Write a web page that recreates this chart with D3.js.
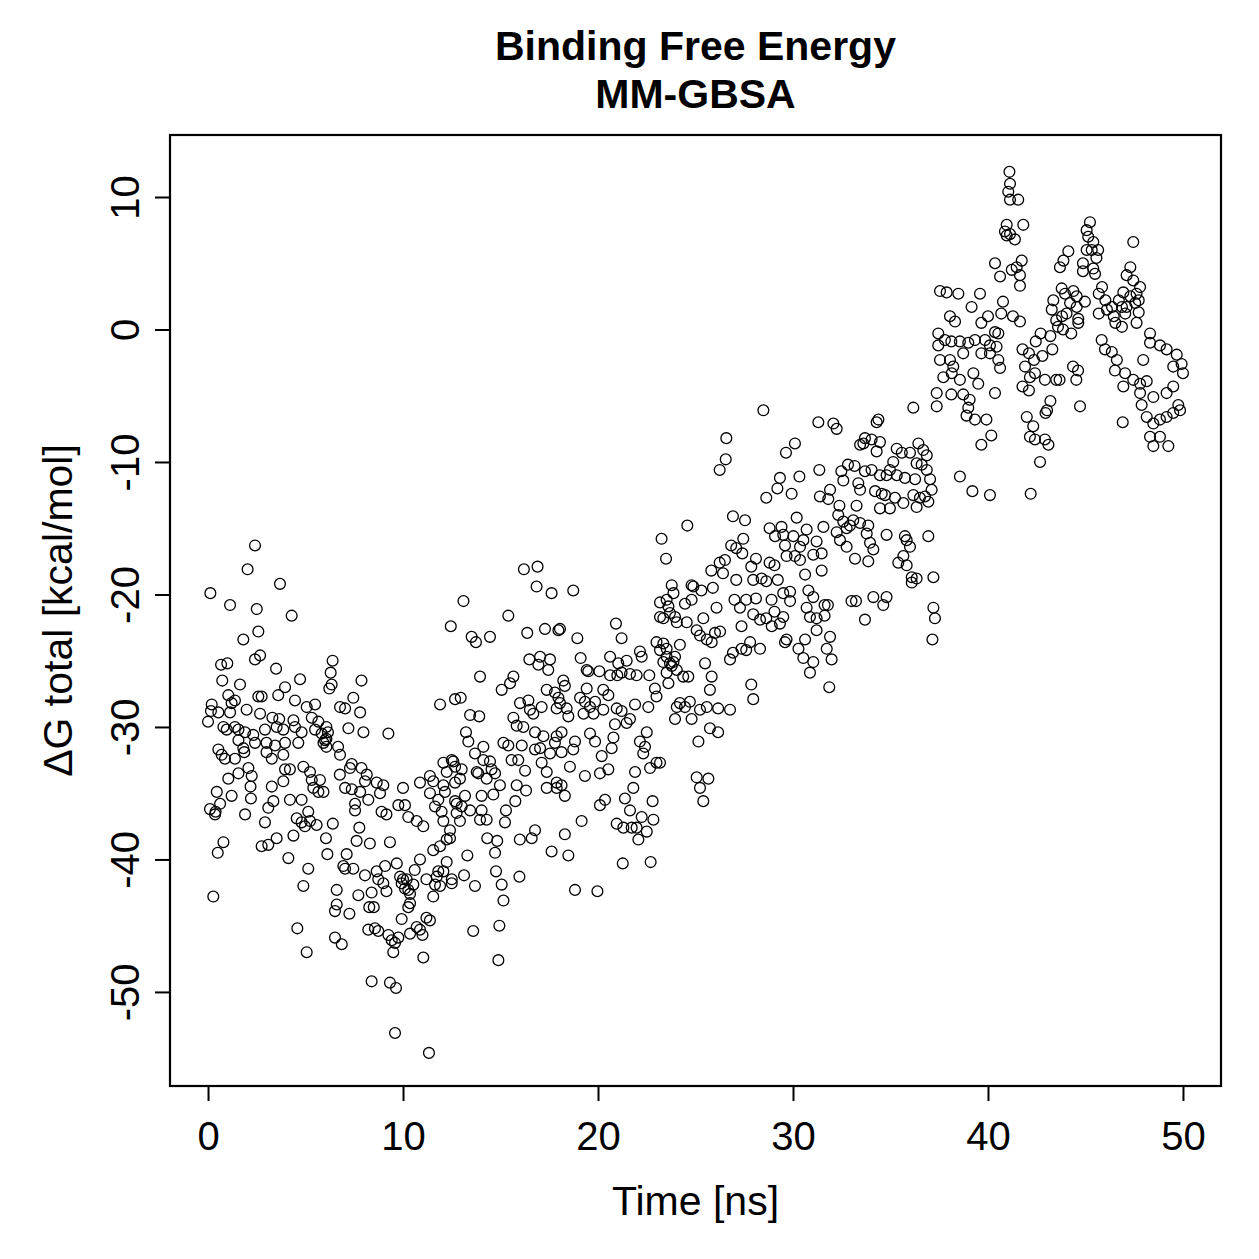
<!DOCTYPE html>
<html lang="en">
<head>
<meta charset="UTF-8">
<title>Binding Free Energy MM-GBSA</title>
<script src="https://d3js.org/d3.v7.min.js"></script>
<style>
  body { margin: 0; background: #fff; }
  text { font-family: "Liberation Sans", Arial, Helvetica, sans-serif; }
</style>
</head>
<body>
<svg id="chart"></svg>
<script>
// [time (ns), dG total (kcal/mol)], one list per decade
const seg0to10 = [
  [2.41,-16.3],[2.03,-18.1],[3.69,-19.2],[0.12,-19.9],[1.13,-20.8],[2.5,-21.1],[4.29,-21.6],[2.58,-22.8],[1.81,-23.4],[2.67,-24.6],
  [2.41,-24.9],[0.67,-25.3],[0.99,-25.2],[3.49,-25.6],[0.73,-26.5],[1.64,-26.8],[4.72,-26.4],[3.95,-27.0],[1.04,-27.6],[2.58,-27.7],
  [2.75,-27.7],[3.6,-27.6],[4.46,-28.0],[5.06,-28.5],[5.49,-28.3],[0.19,-28.3],[0.15,-28.8],[1.21,-28.2],[1.38,-28.0],[1.98,-28.7],
  [0.0,-29.6],[0.53,-28.9],[1.13,-28.9],[2.67,-29.0],[3.3,-29.3],[3.65,-29.4],[4.38,-29.5],[5.32,-29.3],[5.66,-29.6],
  [0.79,-30.0],[0.96,-30.2],[1.38,-30.0],[1.56,-30.2],[1.9,-30.4],[2.32,-30.6],[2.92,-30.2],[3.52,-30.0],[3.86,-30.2],[4.46,-30.0],
  [4.8,-30.4],[5.49,-30.2],[5.83,-30.5],[6.07,-30.9],[1.56,-31.0],[2.41,-31.2],[3.0,-31.2],[3.44,-31.4],[3.95,-31.2],[4.63,-31.2],
  [5.92,-31.2],[0.53,-31.7],[1.81,-31.6],
  [0.7,-32.1],[0.87,-32.4],[1.38,-32.4],[1.86,-31.9],[2.07,-33.1],[2.24,-33.7],[1.56,-33.5],[1.04,-33.9],[0.45,-34.9],[1.21,-35.2],
  [2.18,-34.5],[2.2,-35.4],[0.62,-35.8],[0.1,-36.2],[0.36,-36.6],[0.39,-36.4],[1.9,-36.6],[3.0,-31.9],[3.86,-32.1],[3.27,-32.4],
  [3.95,-33.2],[4.2,-33.2],[3.86,-34.1],[3.27,-34.5],[3.35,-35.6],[3.09,-36.1],[2.92,-37.2],[4.2,-35.5],[4.8,-35.5],[4.89,-33.0],
  [5.23,-33.4],[5.32,-34.0],[5.74,-34.0],[5.4,-34.6],[5.66,-34.9],[5.92,-34.9],[5.14,-36.4],[4.55,-36.9],[4.8,-37.2],[5.23,-37.1],
  [5.57,-37.4],[4.97,-37.5],[4.38,-38.2],[3.52,-38.4],[3.09,-38.9],[2.75,-39.0],[0.79,-38.7],[0.5,-39.5],[4.12,-39.9],[5.14,-40.7],
  [4.89,-42.0],[0.27,-42.8],[4.58,-45.2],[5.06,-47.0],
  [6.39,-25.0],[6.29,-25.9],[6.34,-26.8],[6.22,-27.1],[7.87,-26.5],[7.45,-27.8],[6.77,-28.5],[7.03,-28.6],[7.8,-28.9],[7.2,-30.1],
  [7.97,-30.4],[9.25,-30.5],[6.07,-30.0],[6.15,-30.4],[6.0,-31.0],[6.07,-31.5],[6.67,-31.5],[6.77,-32.1],[7.37,-32.8],[7.28,-33.1],
  [7.87,-33.1],[6.76,-33.6],[8.14,-33.6],[8.05,-34.1],[8.65,-34.2],[8.99,-34.4],[7.03,-34.6],[7.37,-34.7],[7.8,-34.9],[8.22,-35.5],
  [8.82,-35.0],[7.54,-35.8],[7.54,-36.3],[8.9,-36.4],[9.15,-36.6],[9.76,-35.9],[6.4,-37.3],[7.76,-37.6],
  [6.05,-38.4],[6.12,-39.6],[7.11,-39.6],[7.62,-38.6],[8.3,-38.8],[9.33,-38.7],[6.94,-40.5],[7.03,-40.7],[7.45,-40.7],[8.05,-41.2],
  [8.65,-40.9],[8.73,-41.5],[9.08,-40.5],[8.99,-41.8],[9.15,-42.4],[9.68,-40.3],[6.6,-42.3],[7.71,-42.7],[8.39,-42.5],[6.6,-43.4],
  [6.51,-43.9],[7.25,-44.1],[8.27,-43.6],[8.5,-43.6],[9.85,-41.3],[9.93,-41.8],[9.93,-44.5],[8.22,-45.3],[8.56,-45.2],[8.73,-45.4],
  [9.25,-45.7],[9.42,-46.1],[9.59,-46.3],[9.76,-45.9],[9.5,-47.0],[6.51,-45.9],[6.86,-46.4],[8.39,-49.2],[9.33,-49.3],[9.64,-49.7],
  [9.59,-53.1]
];

const seg10to20 = [
  [10.1,-35.9],[10.0,-34.6],[10.27,-36.8],[10.7,-37.1],[11.04,-37.5],[10.87,-34.2],[11.55,-34.1],[11.38,-35.0],[11.81,-35.5],[12.15,-34.9],
  [12.07,-32.7],[12.5,-32.5],[12.67,-33.0],[11.9,-28.3],[12.67,-27.9],[11.64,-36.0],[11.98,-36.4],[12.07,-37.1],[12.41,-37.8],[12.75,-35.8],
  [11.38,-33.7],
  [10.0,-41.5],[10.27,-42.3],[10.53,-41.9],[10.6,-40.8],[10.87,-40.0],[10.27,-43.6],[10.36,-43.3],[10.36,-45.6],[10.7,-45.1],[10.87,-45.3],
  [11.2,-44.4],[11.38,-44.6],[11.0,-45.7],[11.04,-47.4],[11.33,-54.6],[12.41,-38.4],[11.9,-39.0],[11.55,-39.3],[12.24,-40.2],[11.81,-40.9],
  [11.73,-41.3],[12.5,-41.5],[11.2,-41.5],[11.64,-41.9],[11.55,-42.8],[10.19,-41.5],[10.1,-42.2],[10.36,-42.6],
  [16.85,-19.4],[17.62,-19.9],[13.1,-20.5],[15.4,-21.6],[12.45,-22.4],[13.52,-23.2],[13.74,-23.6],[14.46,-23.2],[16.37,-22.9],[17.28,-22.6],
  [17.97,-22.7],[16.48,-24.9],[17.03,-24.7],[17.54,-24.9],[16.94,-25.3],[17.45,-25.7],[13.95,-26.2],[15.66,-26.2],[15.49,-26.7],[15.06,-27.2],
  [18.22,-26.5],[18.3,-26.9],[17.37,-27.2],[17.79,-27.4],[17.97,-27.8],[12.96,-27.8],[16.0,-28.2],[16.43,-28.0],[16.51,-28.7],[17.11,-28.5],
  [16.68,-29.0],[17.88,-28.6],[18.39,-28.6],[18.48,-29.2],[13.44,-29.1],[13.91,-29.2],[15.66,-29.3],[15.83,-29.9],[16.17,-30.0],[13.23,-30.4],
  [13.35,-31.1],[16.77,-30.4],[17.2,-30.7],[17.88,-30.7],[18.13,-30.4],[17.79,-31.2],[14.12,-31.5],[15.15,-31.2],[15.4,-31.4],[16.09,-31.4],
  [16.77,-31.7],[17.03,-31.6],[17.54,-32.0],[18.13,-31.9],[13.69,-32.0],[14.12,-32.5],[14.46,-32.6],[15.57,-32.5],[15.91,-32.5],[17.11,-32.7],
  [12.58,-32.6],[13.01,-33.2],[12.24,-33.4],[13.78,-33.4],[14.54,-33.2],[14.72,-33.5],[16.26,-33.3],[17.37,-33.4],
  [12.07,-34.4],[12.67,-34.2],[12.92,-33.9],[13.86,-33.5],[14.29,-33.9],[14.97,-34.4],[14.63,-35.1],[15.83,-34.4],[16.31,-34.8],[17.37,-34.6],
  [17.88,-34.2],[18.3,-35.2],[17.88,-34.6],[12.67,-35.6],[13.18,-35.2],[13.01,-36.0],[13.44,-36.3],[14.03,-35.2],[12.75,-36.5],[14.03,-36.3],
  [13.95,-37.0],[14.29,-37.0],[15.28,-36.3],[15.23,-37.2],[15.76,-35.6],[12.92,-37.1],[12.24,-38.5],[14.32,-38.4],[14.83,-38.6],[15.99,-38.5],
  [16.6,-38.4],[16.77,-37.8],[18.3,-38.1],[18.48,-39.7],[13.3,-39.7],[14.72,-39.5],[17.62,-39.4],[12.07,-40.9],[11.9,-42.0],[13.13,-41.2],
  [13.69,-42.0],[12.5,-41.8],[14.77,-40.9],[15.06,-41.9],[15.97,-41.3],[15.15,-43.1],[13.6,-45.4],[14.94,-45.0],[14.89,-47.6],
  [16.2,-18.1],[16.9,-17.9],
  [18.73,-19.7],[18.05,-22.6],[18.94,-23.3],[19.11,-24.8],[19.42,-25.7],[19.5,-25.8],[19.42,-27.1],[19.08,-27.8],[19.33,-28.1],[19.59,-28.5],
  [19.85,-28.1],[18.05,-28.2],[19.26,-29.0],[19.77,-29.0],[18.82,-31.1],[18.73,-31.7],[19.59,-30.5],[19.85,-31.1],[18.56,-33.0],[19.33,-33.7],
  [18.13,-34.4],[19.16,-37.1],[18.82,-42.3],[19.97,-42.4]
];

const seg20to30 = [
  [23.78,-19.3],[23.87,-19.9],[23.18,-20.6],[23.61,-20.9],[23.18,-21.7],[23.35,-21.8],[23.95,-21.7],[24.04,-22.1],[20.92,-22.2],[21.21,-23.3],
  [23.0,-23.6],[23.35,-23.7],[23.52,-24.1],[23.18,-24.2],[22.15,-24.3],[22.24,-24.7],[20.62,-24.7],[21.04,-25.2],[21.47,-25.0],[23.52,-24.7],
  [23.35,-25.1],[23.87,-25.1],[23.78,-25.4],[24.04,-25.7],[20.07,-25.8],[20.62,-26.1],[20.99,-26.1],[21.21,-25.9],[21.64,-26.0],[21.98,-26.1],
  [22.63,-26.1],[23.52,-25.9],[23.61,-26.7],[20.27,-27.2],[20.53,-27.6],[22.92,-27.1],[23.0,-27.7],[20.27,-28.7],[20.96,-28.6],[21.21,-28.8],
  [21.9,-28.3],[22.58,-28.5],[24.04,-28.5],
  [20.87,-29.8],[21.47,-29.7],[21.64,-29.4],[22.5,-30.4],[23.95,-29.4],[20.79,-30.8],[20.7,-31.6],[22.15,-31.1],[22.41,-31.5],[22.32,-32.0],
  [20.19,-32.2],[20.1,-33.5],[20.53,-33.2],[21.9,-33.4],[22.67,-33.1],[23.0,-32.7],[21.81,-34.6],[21.38,-35.4],[20.36,-35.5],[20.1,-35.9],
  [22.8,-35.6],[21.64,-36.3],[22.24,-36.8],[22.84,-37.0],[20.96,-37.3],[21.3,-37.6],[21.73,-37.6],[21.98,-37.6],[22.5,-37.9],[22.07,-38.5],
  [21.27,-40.3],[22.7,-40.2],
  [28.48,-6.1],[26.58,-8.2],[26.55,-9.8],[26.24,-10.6],[29.64,-9.3],[29.33,-11.2],[29.2,-12.0],[28.63,-12.7],[26.92,-14.1],[27.54,-14.4],
  [24.58,-14.8],[23.26,-15.8],[23.49,-17.3],[27.45,-15.8],[26.83,-16.3],[27.09,-16.5],[27.4,-16.9],[26.51,-17.4],[26.24,-17.6],[25.81,-18.2],
  [26.41,-18.4],[27.09,-18.9],[28.1,-17.3],[27.86,-17.9],[28.8,-17.6],[29.05,-17.8],[27.96,-18.9],[28.39,-18.8],[28.63,-19.0],[29.22,-18.9],
  [28.8,-15.0],[29.41,-14.9],[29.5,-15.5],[29.08,-15.6],[29.59,-16.3],[24.8,-19.3],[24.89,-19.4],[25.3,-19.7],[25.89,-19.5],[27.0,-20.4],
  [27.6,-20.4],[28.1,-20.3],[28.9,-20.4],[29.5,-19.9],[23.52,-20.4],[24.46,-20.7],[24.8,-20.4],[26.08,-21.0],
  [23.69,-21.4],[24.55,-22.1],[25.4,-21.8],[27.28,-21.0],[27.36,-22.4],[27.96,-21.5],[28.31,-21.9],[28.63,-21.8],[29.05,-21.3],[29.5,-21.7],
  [28.91,-22.4],[29.33,-22.2],[25.06,-22.7],[25.23,-23.1],[25.58,-23.4],[25.83,-23.6],[26.0,-22.9],[26.26,-22.8],[24.2,-23.8],[23.69,-25.2],
  [23.95,-24.7],[26.77,-24.9],[26.92,-24.4],[27.36,-24.1],[27.6,-24.2],[27.8,-23.6],[28.31,-24.1],[29.59,-23.6],[25.49,-25.2],[25.83,-26.2],
  [25.74,-27.2],[24.37,-26.2],[24.63,-26.2],[27.86,-26.8],[27.96,-27.9],[24.2,-28.2],[24.71,-28.1],[24.46,-28.5],[24.8,-29.4],[25.23,-28.7],
  [25.58,-28.5],[26.16,-28.6],[26.77,-28.7],[25.74,-30.1],[26.16,-30.4],[25.15,-31.1],[23.18,-32.7],[25.06,-33.8],[25.66,-33.9],[25.23,-34.6],
  [25.4,-35.6],[29.67,-17.1],[29.85,-19.8],[29.85,-20.5],[29.67,-23.4],[29.93,-12.4]
];

const seg30to40 = [
  [36.17,-5.9],[31.3,-7.0],[32.07,-7.1],[32.24,-7.5],[34.38,-6.8],[34.29,-7.0],[30.1,-8.6],[33.69,-8.2],[33.44,-8.7],[33.61,-8.6],
  [34.03,-8.3],[34.46,-8.5],[34.29,-9.2],[35.32,-9.0],[35.58,-9.3],[36.0,-9.3],[36.43,-8.6],[36.68,-9.1],[36.86,-9.5],[35.14,-10.0],
  [34.97,-10.6],[36.34,-10.1],[36.6,-10.2],[36.86,-10.6],[32.82,-10.2],[33.16,-10.3],[32.48,-10.7],[31.35,-10.6],[32.58,-11.4],[30.33,-11.1],
  [33.69,-10.7],[34.03,-10.6],[34.46,-11.0],[34.8,-11.0],[35.32,-11.0],[35.74,-11.2],[36.26,-11.3],[37.03,-11.3],[33.35,-11.6],[33.44,-12.1],
  [34.21,-12.2],[34.55,-12.4],[34.72,-12.5],[35.23,-12.7],[35.66,-13.1],[36.17,-12.5],[36.51,-12.7],[36.77,-12.6],[36.94,-13.0],[37.11,-12.1],
  [34.46,-13.5],[34.97,-13.5],[36.34,-13.4],[31.9,-12.1],[31.38,-12.6],[31.81,-12.8],[32.38,-13.3],[33.26,-13.3],[30.19,-14.2],[31.56,-14.9],
  [30.7,-15.1],[32.32,-14.0],[32.58,-14.5],[32.92,-14.8],[33.09,-14.4],[33.44,-14.6],[33.86,-14.8],[32.24,-15.3],[32.75,-15.0],[33.78,-15.4],
  [32.41,-15.9],[32.75,-16.4],[33.18,-17.3],[33.95,-16.1],[34.12,-16.6],[33.86,-17.5],[34.8,-15.5],[35.74,-15.6],[35.83,-15.9],[36.0,-16.4],
  [36.94,-15.6],[35.66,-17.1],[35.4,-17.6],[35.83,-17.8],[36.09,-18.7],[36.34,-18.8],[36.09,-19.1],[37.2,-18.7],[30.02,-15.6],[30.53,-15.9],
  [30.36,-16.4],[31.21,-16.0],[30.1,-17.1],[30.36,-17.4],[31.04,-17.0],[31.47,-16.9],[30.62,-18.5],[31.47,-18.2],[30.79,-19.7],[31.04,-20.2],
  [30.7,-21.0],[31.62,-20.8],[31.79,-20.8],[30.87,-21.7],[31.21,-21.8],[31.62,-21.6],[31.21,-22.7],[30.62,-23.4],[31.9,-23.2],[31.73,-24.1],
  [30.28,-24.1],[30.53,-24.8],[31.04,-25.1],[31.98,-24.9],[30.87,-25.9],[31.86,-27.0],[33.0,-20.5],[33.23,-20.5],[34.12,-20.2],[34.8,-20.2],
  [34.63,-20.8],[33.69,-21.9],[37.2,-21.0],[37.28,-21.8],[37.15,-23.4],[38.56,-11.1],
  [37.54,2.9],[37.88,2.8],[38.48,2.7],[39.59,2.7],[39.16,1.7],[38.05,1.0],[38.31,0.6],[39.66,0.5],[37.45,-0.3],[37.79,-0.8],
  [38.12,-0.9],[38.56,-0.9],[38.99,-1.0],[39.33,-0.8],[39.85,-0.8],[37.45,-1.2],[37.54,-2.3],[38.05,-2.3],[38.22,-2.8],[37.71,-3.6],
  [38.14,-3.3],[38.56,-3.8],[39.25,-3.3],[39.5,-4.1],[38.73,-1.8],[39.66,-1.8],[37.37,-4.8],[37.37,-5.8],[38.12,-4.9],[38.73,-4.9],
  [39.06,-5.3],[38.99,-5.9],[38.9,-6.5],[39.33,-6.8],[39.92,-6.8],[39.66,-8.7],[39.2,-12.2]
];

const seg40to50 = [
  [41.1,11.9],[41.13,11.0],[41.04,10.4],[41.13,9.8],[41.55,9.8],[40.96,7.9],[41.81,7.9],[40.87,7.4],[40.96,7.1],[41.38,6.8],
  [41.13,7.2],[45.23,8.1],[45.06,7.5],[45.14,7.0],[45.4,6.6],[45.32,6.0],[45.65,6.0],[45.56,5.4],[45.06,6.0],[47.45,6.6],
  [44.12,5.9],[43.87,5.2],[43.69,4.7],[40.36,5.0],[41.73,5.2],[41.47,4.7],[41.22,4.5],[41.64,4.1],[40.62,4.0],[41.64,3.3],
  [44.87,5.0],[44.87,4.4],[45.4,4.6],[45.49,4.2],[47.3,4.7],[47.11,4.1],[47.45,3.7],[47.8,3.2],[47.62,2.7],[47.3,2.5],
  [46.94,2.8],[47.55,2.0],[47.73,1.3],[47.62,0.5],[40.77,2.1],[40.68,1.2],[41.28,1.0],[41.64,0.6],[43.78,3.1],[43.95,2.7],
  [44.38,2.9],[44.55,2.5],[43.35,2.2],[44.21,2.0],[44.55,1.7],[44.97,2.1],[43.27,1.5],[44.03,1.2],[44.63,0.8],[43.5,0.7],
  [43.59,0.2],[43.85,0.0],[44.27,-0.3],[44.63,0.5],[45.85,3.2],[45.68,2.7],[46.02,2.2],[46.36,1.7],[46.71,2.2],[46.87,1.7],
  [47.04,1.2],[46.45,1.0],[46.53,0.5],[46.87,0.2],[46.1,1.5],[45.68,1.2],[47.11,1.7],[47.73,2.2],[40.0,1.0],[40.36,-0.2],
  [40.53,-0.3],[40.1,-1.2],[40.44,-1.3],[40.1,-1.8],[40.53,-2.3],[40.62,-2.9],[40.36,-4.8],[40.17,-8.0],[41.77,-1.5],[42.1,-1.8],
  [42.45,-0.9],[42.7,-0.3],[42.36,-2.3],[42.79,-2.0],[43.3,-1.5],[43.2,-0.5],[43.8,1.0],[41.9,-2.8],[42.15,-3.6],[42.41,-3.3],
  [42.92,-3.8],[41.77,-4.3],[42.1,-4.6],[43.5,-3.8],[43.67,-3.8],[44.36,-2.8],[44.62,-3.1],[44.53,-3.8],[43.2,-5.4],[42.95,-6.3],
  [43.03,-6.1],[41.99,-6.6],[42.32,-7.3],[42.15,-8.1],[42.41,-8.3],[42.92,-8.3],[43.1,-8.7],[42.67,-10.0],[44.72,-5.8],[45.83,-0.8],
  [46.0,-1.5],[46.35,-1.7],[46.61,-2.3],[46.51,-3.1],[47.03,-3.3],[46.94,-4.3],[47.45,-3.8],[47.8,-4.1],[48.14,-3.9],[48.31,-0.3],
  [48.31,-1.0],[48.82,-1.2],[49.16,-1.5],[49.68,-1.9],[49.93,-2.6],[49.5,-2.8],[50.0,-3.3],[49.5,-4.3],[49.16,-4.8],[48.48,-5.1],
  [47.8,-4.8],[47.88,-5.7],[48.14,-6.6],[48.48,-7.1],[48.82,-6.8],[49.16,-6.6],[49.5,-6.3],[49.85,-6.1],[49.76,-5.7],[48.31,-8.1],
  [48.48,-8.8],[49.25,-8.8],[48.82,-8.1],[46.91,-7.0],[47.96,-2.3],[40.1,-12.5],[42.19,-12.4]
];

const xTicks = [0, 10, 20, 30, 40, 50];
const yTicks = [10, 0, -10, -20, -30, -40, -50];
const titleLines = ["Binding Free Energy", "MM-GBSA"];
const xLabel = "Time [ns]";
const yLabel = "\u0394G total [kcal/mol]";

const points = [].concat(seg0to10, seg10to20, seg20to30, seg30to40, seg40to50);

const width = 1259, height = 1259;
const box = { left: 170, right: 1221, top: 135, bottom: 1086 };
const fontFamily = '"Liberation Sans", Arial, sans-serif';

const svg = d3.select("#chart")
  .attr("width", width)
  .attr("height", height)
  .style("display", "block");

svg.append("rect").attr("width", width).attr("height", height).attr("fill", "#fff");

const x = d3.scaleLinear().domain([-1.95, 51.95]).range([box.left, box.right]);
const y = d3.scaleLinear().domain([-57.1, 14.68]).range([box.bottom, box.top]);

// points
svg.append("g")
  .selectAll("circle")
  .data(points)
  .join("circle")
  .attr("cx", d => x(d[0]))
  .attr("cy", d => y(d[1]))
  .attr("r", 5.4)
  .attr("fill", "none")
  .attr("stroke", "#000")
  .attr("stroke-width", 1.3);

// x axis
const xAxis = svg.append("g")
  .attr("transform", `translate(0,${box.bottom})`)
  .call(d3.axisBottom(x).tickValues(xTicks).tickSize(15).tickPadding(21).tickSizeOuter(0));
xAxis.select(".domain").remove();
xAxis.selectAll("line").attr("stroke-width", 2);
xAxis.selectAll("text").attr("font-size", 40).attr("fill", "#000")
  .style("font-family", fontFamily);

// y axis, labels turned like R's default, plain hyphen for minus
const yAxis = svg.append("g")
  .attr("transform", `translate(${box.left},0)`)
  .call(d3.axisLeft(y).tickValues(yTicks).tickFormat(d => String(d)).tickSize(15).tickSizeOuter(0));
yAxis.select(".domain").remove();
yAxis.selectAll("line").attr("stroke-width", 2);
yAxis.selectAll("text")
  .attr("x", null).attr("dy", null)
  .attr("text-anchor", "middle")
  .attr("transform", "translate(-31,0) rotate(-90)")
  .attr("font-size", 40).attr("fill", "#000")
  .style("font-family", fontFamily);

// frame
svg.append("rect")
  .attr("x", box.left).attr("y", box.top)
  .attr("width", box.right - box.left).attr("height", box.bottom - box.top)
  .attr("fill", "none").attr("stroke", "#000").attr("stroke-width", 2.2);

// titles
const cx = (box.left + box.right) / 2;
svg.append("g").selectAll("text")
  .data(titleLines)
  .join("text")
  .attr("x", cx)
  .attr("y", (d, i) => 60 + i * 48)
  .attr("text-anchor", "middle")
  .attr("font-size", 41)
  .attr("font-weight", "bold")
  .text(d => d);

svg.append("text")
  .attr("x", cx).attr("y", 1215)
  .attr("text-anchor", "middle")
  .attr("font-size", 41)
  .text(xLabel);

svg.append("text")
  .attr("transform", `translate(72,${(box.top + box.bottom) / 2}) rotate(-90)`)
  .attr("text-anchor", "middle")
  .attr("font-size", 41)
  .text(yLabel);
</script>
</body>
</html>
